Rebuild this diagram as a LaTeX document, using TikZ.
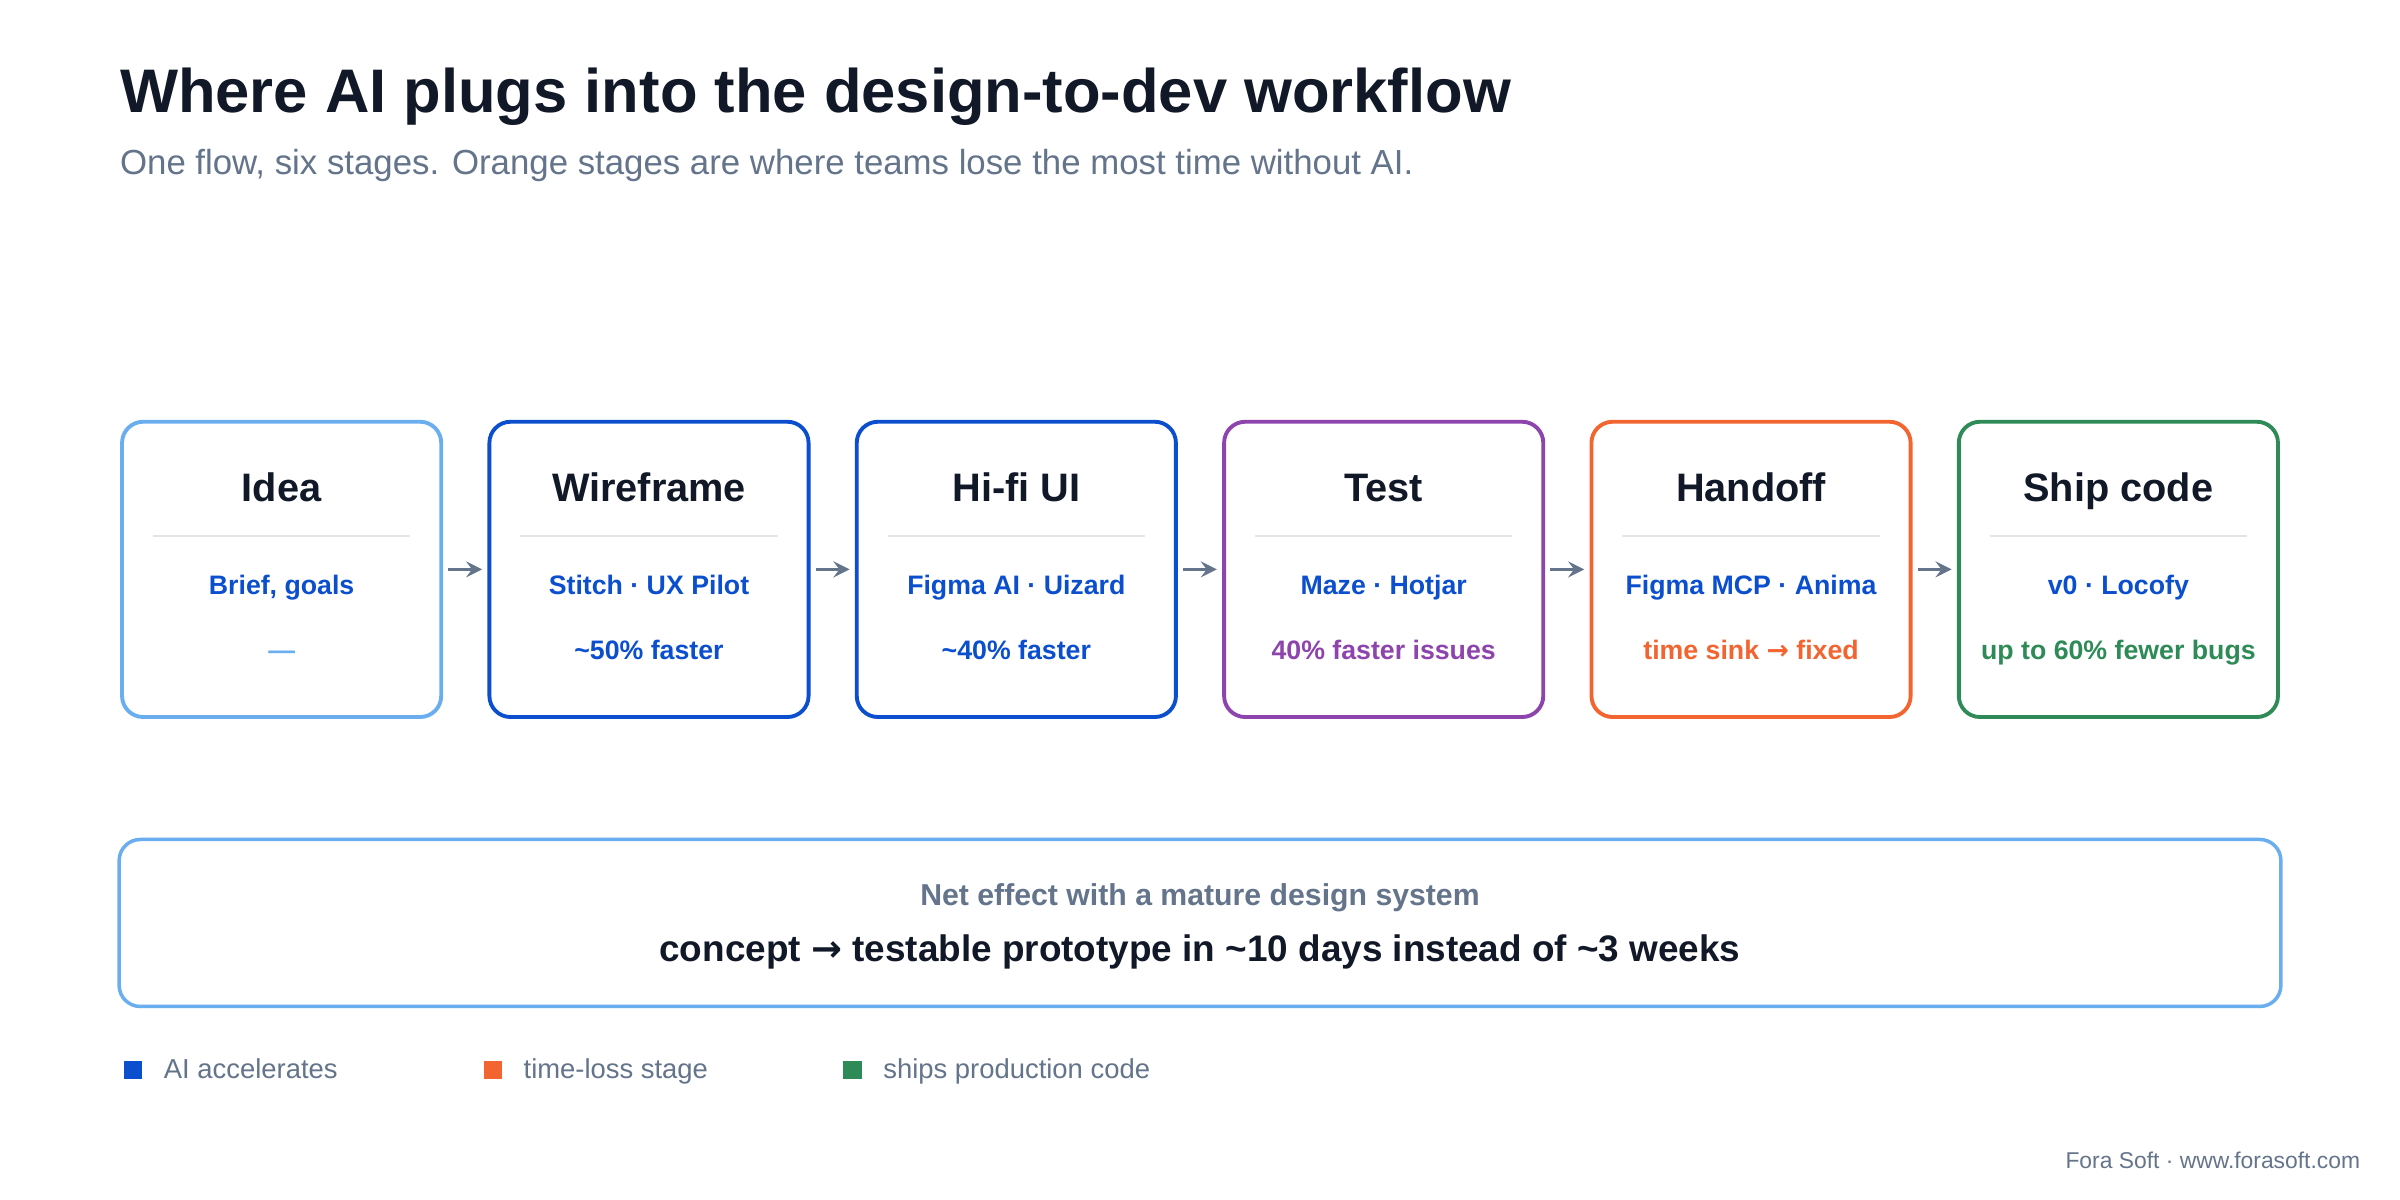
\documentclass[tikz,border=0pt]{standalone}
\usepackage{fontspec}
\setmainfont{Liberation Sans}
\newfontfamily\symfont{DejaVu Sans}
\usetikzlibrary{positioning}
\definecolor{ink}{HTML}{111827}
\definecolor{slate}{HTML}{64748B}
\definecolor{lightblue}{HTML}{6AAEF0}
\definecolor{aiblue}{HTML}{0B4FCF}
\definecolor{purp}{HTML}{8E44AD}
\definecolor{orng}{HTML}{F26430}
\definecolor{grn}{HTML}{2E8B57}
\definecolor{rule}{HTML}{E2E4E8}
\newcommand{\arr}{{\symfont\char"2192}}
\tikzset{
  stage/.style = {draw=#1, line width=1.1pt, rounded corners=6pt, minimum width=90.8pt, minimum height=84pt, inner sep=0pt},
  head/.style = {font=\fontsize{11.3}{13}\selectfont\bfseries, text=ink, text height=8pt, text depth=2pt},
  note/.style = {font=\fontsize{7.6}{9}\selectfont\bfseries, text=#1, text height=5.5pt, text depth=1.5pt},
  flow/.style = {-stealth, draw=slate, line width=1pt, shorten <=1.5pt, shorten >=1.5pt},
  legend/.style = {font=\fontsize{7.8}{9}\selectfont, text=slate, anchor=west, text height=5.5pt, text depth=1.5pt}
}
\begin{document}
\begin{tikzpicture}[x=0.015306cm, y=-0.015306cm]
  \fill[white] (0,0) rectangle (1568,784);
  \useasboundingbox (0,0) rectangle (1568,784);

  % title
  \node[anchor=west, inner sep=0pt, font=\fontsize{17.5}{20}\selectfont\bfseries, text=ink] (title) at (78,63) {Where AI plugs into the design-to-dev workflow};
  \node[anchor=west, inner sep=0pt, font=\fontsize{9.9}{11}\selectfont, text=slate] (subtitle) at (78,108) {One flow, six stages. Orange stages are where teams lose the most time without AI.};

  % stages
  \foreach \i/\x/\col/\name/\tools/\gain/\gcol in {
      1/184/lightblue/Idea/{Brief, goals}/{---}/lightblue,
      2/424/aiblue/Wireframe/{Stitch · UX Pilot}/{\textasciitilde50\% faster}/aiblue,
      3/664/aiblue/Hi-fi UI/{Figma AI · Uizard}/{\textasciitilde40\% faster}/aiblue,
      4/904/purp/Test/{Maze · Hotjar}/{40\% faster issues}/purp,
      5/1144/orng/Handoff/{Figma MCP · Anima}/{time sink \arr{} fixed}/orng,
      6/1384/grn/Ship code/{v0 · Locofy}/{up to 60\% fewer bugs}/grn} {
    \node[stage=\col] (s\i) at (\x,372) {};
    \node[head] (h\i) at (\x,321) {\name};
    \draw[rule, line width=0.5pt] (\x-84,350) -- (\x+84,350);
    \node[note=aiblue] (t\i) at (\x,384) {\tools};
    \node[note=\gcol] (g\i) at (\x,426) {\gain};
  }
  \foreach \a/\b in {1/2,2/3,3/4,4/5,5/6}
    \draw[flow] (s\a.east) -- (s\b.west);

  % summary
  \node[draw=lightblue, line width=1pt, rounded corners=6pt, minimum width=615pt, minimum height=47.5pt] (net) at (784,603) {};
  \node[font=\fontsize{8.6}{10}\selectfont\bfseries, text=slate, text height=6pt, text depth=2pt] (netlbl) at (784,587) {Net effect with a mature design system};
  \node[font=\fontsize{10.5}{12}\selectfont\bfseries, text=ink, text height=7.5pt, text depth=2pt] (netval) at (784,622) {concept \arr{} testable prototype in \textasciitilde10 days instead of \textasciitilde3 weeks};

  % legend
  \foreach \i/\x/\col/\txt in {1/87/aiblue/AI accelerates, 2/322/orng/time-loss stage, 3/557/grn/ships production code} {
    \fill[\col] (\x-6,693) rectangle (\x+6,705);
    \node[legend] (l\i) at (\x+12,700) {\txt};
  }
  \node[anchor=east, font=\fontsize{6.5}{8}\selectfont, text=slate] (credit) at (1550,758) {Fora Soft · www.forasoft.com};
\end{tikzpicture}
\end{document}
